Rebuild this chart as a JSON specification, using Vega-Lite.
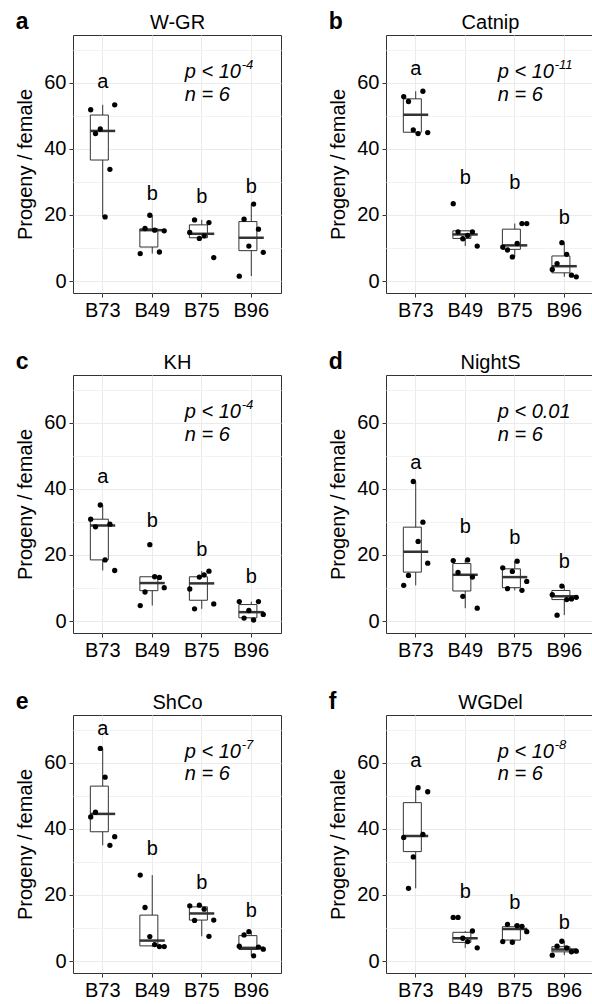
{
"$schema": "https://vega.github.io/schema/vega-lite/v6.json",
"padding": {"left": 15, "top": 10, "right": 0, "bottom": 0},
"autosize": {"type": "pad"},
"columns": 2,
"spacing": {"row": 29, "column": 46},
"datasets": {
"points": [
{"panel":"W-GR","group":"B73","rep":1,"value":51.8},{"panel":"W-GR","group":"B73","rep":2,"value":44.6},{"panel":"W-GR","group":"B73","rep":3,"value":46.0},{"panel":"W-GR","group":"B73","rep":4,"value":19.4},{"panel":"W-GR","group":"B73","rep":5,"value":33.8},{"panel":"W-GR","group":"B73","rep":6,"value":53.3},
{"panel":"W-GR","group":"B49","rep":1,"value":8.3},{"panel":"W-GR","group":"B49","rep":2,"value":15.9},{"panel":"W-GR","group":"B49","rep":3,"value":19.9},{"panel":"W-GR","group":"B49","rep":4,"value":15.4},{"panel":"W-GR","group":"B49","rep":5,"value":8.8},{"panel":"W-GR","group":"B49","rep":6,"value":15.2},
{"panel":"W-GR","group":"B75","rep":1,"value":14.7},{"panel":"W-GR","group":"B75","rep":2,"value":18.5},{"panel":"W-GR","group":"B75","rep":3,"value":12.9},{"panel":"W-GR","group":"B75","rep":4,"value":13.7},{"panel":"W-GR","group":"B75","rep":5,"value":17.7},{"panel":"W-GR","group":"B75","rep":6,"value":7.1},
{"panel":"W-GR","group":"B96","rep":1,"value":1.5},{"panel":"W-GR","group":"B96","rep":2,"value":18.7},{"panel":"W-GR","group":"B96","rep":3,"value":10.6},{"panel":"W-GR","group":"B96","rep":4,"value":23.3},{"panel":"W-GR","group":"B96","rep":5,"value":15.7},{"panel":"W-GR","group":"B96","rep":6,"value":8.7},
{"panel":"Catnip","group":"B73","rep":1,"value":55.8},{"panel":"Catnip","group":"B73","rep":2,"value":54.3},{"panel":"Catnip","group":"B73","rep":3,"value":45.7},{"panel":"Catnip","group":"B73","rep":4,"value":44.6},{"panel":"Catnip","group":"B73","rep":5,"value":57.4},{"panel":"Catnip","group":"B73","rep":6,"value":44.9},
{"panel":"Catnip","group":"B49","rep":1,"value":23.4},{"panel":"Catnip","group":"B49","rep":2,"value":14.9},{"panel":"Catnip","group":"B49","rep":3,"value":12.8},{"panel":"Catnip","group":"B49","rep":4,"value":13.8},{"panel":"Catnip","group":"B49","rep":5,"value":14.9},{"panel":"Catnip","group":"B49","rep":6,"value":10.6},
{"panel":"Catnip","group":"B75","rep":1,"value":10.3},{"panel":"Catnip","group":"B75","rep":2,"value":9.4},{"panel":"Catnip","group":"B75","rep":3,"value":7.3},{"panel":"Catnip","group":"B75","rep":4,"value":11.4},{"panel":"Catnip","group":"B75","rep":5,"value":17.4},{"panel":"Catnip","group":"B75","rep":6,"value":17.4},
{"panel":"Catnip","group":"B96","rep":1,"value":3.5},{"panel":"Catnip","group":"B96","rep":2,"value":5.3},{"panel":"Catnip","group":"B96","rep":3,"value":11.6},{"panel":"Catnip","group":"B96","rep":4,"value":8.1},{"panel":"Catnip","group":"B96","rep":5,"value":1.8},{"panel":"Catnip","group":"B96","rep":6,"value":1.3},
{"panel":"KH","group":"B73","rep":1,"value":30.8},{"panel":"KH","group":"B73","rep":2,"value":28.5},{"panel":"KH","group":"B73","rep":3,"value":35.1},{"panel":"KH","group":"B73","rep":4,"value":18.5},{"panel":"KH","group":"B73","rep":5,"value":29.3},{"panel":"KH","group":"B73","rep":6,"value":15.3},
{"panel":"KH","group":"B49","rep":1,"value":4.7},{"panel":"KH","group":"B49","rep":2,"value":8.8},{"panel":"KH","group":"B49","rep":3,"value":23.1},{"panel":"KH","group":"B49","rep":4,"value":13.4},{"panel":"KH","group":"B49","rep":5,"value":13.2},{"panel":"KH","group":"B49","rep":6,"value":10.1},
{"panel":"KH","group":"B75","rep":1,"value":9.7},{"panel":"KH","group":"B75","rep":2,"value":3.7},{"panel":"KH","group":"B75","rep":3,"value":13.3},{"panel":"KH","group":"B75","rep":4,"value":14.0},{"panel":"KH","group":"B75","rep":5,"value":15.1},{"panel":"KH","group":"B75","rep":6,"value":5.2},
{"panel":"KH","group":"B96","rep":1,"value":5.9},{"panel":"KH","group":"B96","rep":2,"value":0.9},{"panel":"KH","group":"B96","rep":3,"value":3.2},{"panel":"KH","group":"B96","rep":4,"value":0.3},{"panel":"KH","group":"B96","rep":5,"value":5.9},{"panel":"KH","group":"B96","rep":6,"value":2.0},
{"panel":"NightS","group":"B73","rep":1,"value":10.8},{"panel":"NightS","group":"B73","rep":2,"value":13.8},{"panel":"NightS","group":"B73","rep":3,"value":42.2},{"panel":"NightS","group":"B73","rep":4,"value":24.1},{"panel":"NightS","group":"B73","rep":5,"value":29.9},{"panel":"NightS","group":"B73","rep":6,"value":17.5},
{"panel":"NightS","group":"B49","rep":1,"value":18.3},{"panel":"NightS","group":"B49","rep":2,"value":14.7},{"panel":"NightS","group":"B49","rep":3,"value":7.5},{"panel":"NightS","group":"B49","rep":4,"value":18.5},{"panel":"NightS","group":"B49","rep":5,"value":13.3},{"panel":"NightS","group":"B49","rep":6,"value":3.9},
{"panel":"NightS","group":"B75","rep":1,"value":16.1},{"panel":"NightS","group":"B75","rep":2,"value":9.8},{"panel":"NightS","group":"B75","rep":3,"value":15.0},{"panel":"NightS","group":"B75","rep":4,"value":18.1},{"panel":"NightS","group":"B75","rep":5,"value":9.3},{"panel":"NightS","group":"B75","rep":6,"value":12.0},
{"panel":"NightS","group":"B96","rep":1,"value":8.0},{"panel":"NightS","group":"B96","rep":2,"value":1.8},{"panel":"NightS","group":"B96","rep":3,"value":10.6},{"panel":"NightS","group":"B96","rep":4,"value":6.5},{"panel":"NightS","group":"B96","rep":5,"value":6.7},{"panel":"NightS","group":"B96","rep":6,"value":7.2},
{"panel":"ShCo","group":"B73","rep":1,"value":43.6},{"panel":"ShCo","group":"B73","rep":2,"value":45.0},{"panel":"ShCo","group":"B73","rep":3,"value":64.3},{"panel":"ShCo","group":"B73","rep":4,"value":55.6},{"panel":"ShCo","group":"B73","rep":5,"value":35.0},{"panel":"ShCo","group":"B73","rep":6,"value":37.6},
{"panel":"ShCo","group":"B49","rep":1,"value":26.0},{"panel":"ShCo","group":"B49","rep":2,"value":16.2},{"panel":"ShCo","group":"B49","rep":3,"value":7.4},{"panel":"ShCo","group":"B49","rep":4,"value":5.0},{"panel":"ShCo","group":"B49","rep":5,"value":4.4},{"panel":"ShCo","group":"B49","rep":6,"value":4.4},
{"panel":"ShCo","group":"B75","rep":1,"value":16.7},{"panel":"ShCo","group":"B75","rep":2,"value":12.3},{"panel":"ShCo","group":"B75","rep":3,"value":16.9},{"panel":"ShCo","group":"B75","rep":4,"value":15.7},{"panel":"ShCo","group":"B75","rep":5,"value":7.5},{"panel":"ShCo","group":"B75","rep":6,"value":12.4},
{"panel":"ShCo","group":"B96","rep":1,"value":4.5},{"panel":"ShCo","group":"B96","rep":2,"value":7.9},{"panel":"ShCo","group":"B96","rep":3,"value":8.9},{"panel":"ShCo","group":"B96","rep":4,"value":1.6},{"panel":"ShCo","group":"B96","rep":5,"value":4.2},{"panel":"ShCo","group":"B96","rep":6,"value":3.6},
{"panel":"WGDel","group":"B73","rep":1,"value":37.4},{"panel":"WGDel","group":"B73","rep":2,"value":22.0},{"panel":"WGDel","group":"B73","rep":3,"value":31.5},{"panel":"WGDel","group":"B73","rep":4,"value":52.4},{"panel":"WGDel","group":"B73","rep":5,"value":38.3},{"panel":"WGDel","group":"B73","rep":6,"value":51.2},
{"panel":"WGDel","group":"B49","rep":1,"value":13.2},{"panel":"WGDel","group":"B49","rep":2,"value":13.2},{"panel":"WGDel","group":"B49","rep":3,"value":6.9},{"panel":"WGDel","group":"B49","rep":4,"value":5.9},{"panel":"WGDel","group":"B49","rep":5,"value":9.1},{"panel":"WGDel","group":"B49","rep":6,"value":4.0},
{"panel":"WGDel","group":"B75","rep":1,"value":5.9},{"panel":"WGDel","group":"B75","rep":2,"value":11.1},{"panel":"WGDel","group":"B75","rep":3,"value":5.7},{"panel":"WGDel","group":"B75","rep":4,"value":10.7},{"panel":"WGDel","group":"B75","rep":5,"value":10.5},{"panel":"WGDel","group":"B75","rep":6,"value":8.9},
{"panel":"WGDel","group":"B96","rep":1,"value":1.8},{"panel":"WGDel","group":"B96","rep":2,"value":4.5},{"panel":"WGDel","group":"B96","rep":3,"value":6.0},{"panel":"WGDel","group":"B96","rep":4,"value":4.0},{"panel":"WGDel","group":"B96","rep":5,"value":2.8},{"panel":"WGDel","group":"B96","rep":6,"value":3.0}
],
"boxes": [
{"panel":"W-GR","group":"B73","lower":19.4,"q1":36.6,"median":45.4,"q3":50.2,"upper":53.3},
{"panel":"W-GR","group":"B49","lower":8.3,"q1":10.3,"median":15.4,"q3":15.8,"upper":19.9},
{"panel":"W-GR","group":"B75","lower":12.9,"q1":13.1,"median":14.3,"q3":17.0,"upper":18.5},
{"panel":"W-GR","group":"B96","lower":1.5,"q1":9.2,"median":13.1,"q3":18.0,"upper":23.3},
{"panel":"Catnip","group":"B73","lower":44.6,"q1":45.0,"median":50.3,"q3":55.1,"upper":57.4},
{"panel":"Catnip","group":"B49","lower":10.6,"q1":12.9,"median":14.1,"q3":15.2,"upper":15.2},
{"panel":"Catnip","group":"B75","lower":7.3,"q1":9.6,"median":10.8,"q3":15.7,"upper":17.4},
{"panel":"Catnip","group":"B96","lower":1.3,"q1":2.5,"median":4.5,"q3":7.6,"upper":11.6},
{"panel":"KH","group":"B73","lower":15.3,"q1":18.5,"median":28.9,"q3":30.8,"upper":35.1},
{"panel":"KH","group":"B49","lower":4.7,"q1":9.2,"median":11.5,"q3":13.4,"upper":13.4},
{"panel":"KH","group":"B75","lower":3.7,"q1":6.3,"median":11.4,"q3":13.4,"upper":15.1},
{"panel":"KH","group":"B96","lower":0.3,"q1":1.0,"median":2.7,"q3":5.0,"upper":5.9},
{"panel":"NightS","group":"B73","lower":10.8,"q1":14.8,"median":21.0,"q3":28.4,"upper":42.2},
{"panel":"NightS","group":"B49","lower":3.9,"q1":9.1,"median":14.0,"q3":17.4,"upper":18.5},
{"panel":"NightS","group":"B75","lower":9.3,"q1":10.1,"median":13.3,"q3":15.8,"upper":18.1},
{"panel":"NightS","group":"B96","lower":1.8,"q1":6.5,"median":7.5,"q3":9.25,"upper":10.7},
{"panel":"ShCo","group":"B73","lower":35.0,"q1":39.1,"median":44.5,"q3":52.9,"upper":64.3},
{"panel":"ShCo","group":"B49","lower":4.4,"q1":4.6,"median":6.2,"q3":13.9,"upper":26.0},
{"panel":"ShCo","group":"B75","lower":7.5,"q1":12.4,"median":14.4,"q3":16.4,"upper":16.9},
{"panel":"ShCo","group":"B96","lower":1.6,"q1":3.5,"median":4.0,"q3":7.7,"upper":8.9},
{"panel":"WGDel","group":"B73","lower":22.0,"q1":33.1,"median":37.8,"q3":47.9,"upper":52.4},
{"panel":"WGDel","group":"B49","lower":4.0,"q1":5.65,"median":6.9,"q3":8.7,"upper":9.1},
{"panel":"WGDel","group":"B75","lower":5.7,"q1":6.35,"median":9.7,"q3":10.4,"upper":11.1},
{"panel":"WGDel","group":"B96","lower":1.8,"q1":2.8,"median":3.5,"q3":4.35,"upper":6.0}
],
"letters": [
{"panel":"W-GR","group":"B73","letter":"a","y":58.4},{"panel":"W-GR","group":"B49","letter":"b","y":24.4},{"panel":"W-GR","group":"B75","letter":"b","y":23.6},{"panel":"W-GR","group":"B96","letter":"b","y":26.6},
{"panel":"Catnip","group":"B73","letter":"a","y":62.4},{"panel":"Catnip","group":"B49","letter":"b","y":29.3},{"panel":"Catnip","group":"B75","letter":"b","y":27.8},{"panel":"Catnip","group":"B96","letter":"b","y":17.2},
{"panel":"KH","group":"B73","letter":"a","y":41.6},{"panel":"KH","group":"B49","letter":"b","y":28.5},{"panel":"KH","group":"B75","letter":"b","y":19.7},{"panel":"KH","group":"B96","letter":"b","y":11.6},
{"panel":"NightS","group":"B73","letter":"a","y":45.9},{"panel":"NightS","group":"B49","letter":"b","y":26.5},{"panel":"NightS","group":"B75","letter":"b","y":23.2},{"panel":"NightS","group":"B96","letter":"b","y":16.0},
{"panel":"ShCo","group":"B73","letter":"a","y":68.5},{"panel":"ShCo","group":"B49","letter":"b","y":32.1},{"panel":"ShCo","group":"B75","letter":"b","y":21.8},{"panel":"ShCo","group":"B96","letter":"b","y":13.4},
{"panel":"WGDel","group":"B73","letter":"a","y":58.8},{"panel":"WGDel","group":"B49","letter":"b","y":19.2},{"panel":"WGDel","group":"B75","letter":"b","y":15.9},{"panel":"WGDel","group":"B96","letter":"b","y":9.7}
],
"notes": [
{"panel":"W-GR","label":"p < 10","sup":"-4","y":61.4},{"panel":"W-GR","label":"n = 6","y":54.5},
{"panel":"Catnip","label":"p < 10","sup":"-11","y":61.4},{"panel":"Catnip","label":"n = 6","y":54.5},
{"panel":"KH","label":"p < 10","sup":"-4","y":61.3},{"panel":"KH","label":"n = 6","y":54.5},
{"panel":"NightS","label":"p < 0.01","y":61.3},{"panel":"NightS","label":"n = 6","y":54.5},
{"panel":"ShCo","label":"p < 10","sup":"-7","y":61.3},{"panel":"ShCo","label":"n = 6","y":54.6},
{"panel":"WGDel","label":"p < 10","sup":"-8","y":61.3},{"panel":"WGDel","label":"n = 6","y":54.6}
]
},
"concat": [
{"width":208,"height":258,"title":{"text":"a"},
"encoding":{"x":{"field":"group","type":"nominal","scale":{"domain":["B73","B49","B75","B96"],"paddingInner":0,"paddingOuter":0.1},"axis":null}},
"layer":[
{"data":{"name":"boxes"},"transform":[{"filter":"datum.panel === 'W-GR'"}],"mark":{"type":"rule","color":"#333333","strokeWidth":1},
"encoding":{"x":{"field":"group","type":"nominal","scale":{"domain":["B73","B49","B75","B96"],"paddingInner":0,"paddingOuter":0.1},"axis":{"title":null,"labelAngle":0,"grid":true}},
"y":{"field":"lower","type":"quantitative","scale":{"domain":[-3.6,74.4],"nice":false,"zero":false},"axis":{"values":[0,20,40,60],"title":"Progeny / female","grid":true}},"y2":{"field":"upper"}}},
{"data":{"name":"boxes"},"transform":[{"filter":"datum.panel === 'W-GR'"}],"mark":{"type":"bar","fill":"white","stroke":"#333333","strokeWidth":1,"width":{"band":0.5}},
"encoding":{"y":{"field":"q1","type":"quantitative","scale":{"domain":[-3.6,74.4],"nice":false,"zero":false},"axis":null},"y2":{"field":"q3"}}},
{"data":{"name":"boxes"},"transform":[{"filter":"datum.panel === 'W-GR'"}],"mark":{"type":"tick","color":"#333333","size":25,"thickness":2.5,"opacity":1},
"encoding":{"y":{"field":"median","type":"quantitative","scale":{"domain":[-3.6,74.4],"nice":false,"zero":false},"axis":null}}},
{"data":{"name":"points"},"transform":[{"filter":"datum.panel === 'W-GR'"}],"mark":{"type":"circle","color":"black","opacity":1,"size":28},
"encoding":{"xOffset":{"field":"rep","type":"nominal","scale":{"range":[12.75,36.75],"paddingOuter":0,"paddingInner":0}},"y":{"field":"value","type":"quantitative","scale":{"domain":[-3.6,74.4],"nice":false,"zero":false},"axis":null}}},
{"data":{"name":"letters"},"transform":[{"filter":"datum.panel === 'W-GR'"}],"mark":{"type":"text","fontSize":20,"baseline":"alphabetic","color":"black"},
"encoding":{"x":{"field":"group","type":"nominal","scale":{"domain":["B73","B49","B75","B96"]},"axis":{"orient":"top","title":"W-GR","labels":false,"ticks":false,"domain":false,"grid":false}},
"y":{"field":"y","type":"quantitative","scale":{"domain":[-3.6,74.4],"nice":false,"zero":false},"axis":{"orient":"right","values":[10,30,50,70],"grid":true,"gridColor":"#F2F2F2","labels":false,"ticks":false,"domain":false,"title":null}},"text":{"field":"letter"}}},
{"data":{"name":"notes"},"transform":[{"filter":"datum.panel === 'W-GR'"}],"mark":{"type":"text","fontSize":20,"fontStyle":"italic","align":"left","baseline":"alphabetic","dx":-17,"color":"black"},
"encoding":{"x":{"datum":"B75","type":"nominal","axis":null},"y":{"field":"y","type":"quantitative","scale":{"domain":[-3.6,74.4],"nice":false,"zero":false},"axis":null},"text":{"field":"label"}}},
{"data":{"name":"notes"},"transform":[{"filter":"datum.panel === 'W-GR' && isValid(datum.sup)"}],"mark":{"type":"text","fontSize":13,"fontStyle":"italic","align":"left","baseline":"alphabetic","dx":40,"dy":-9,"color":"black"},
"encoding":{"x":{"datum":"B75","type":"nominal","axis":null},"y":{"field":"y","type":"quantitative","scale":{"domain":[-3.6,74.4],"nice":false,"zero":false},"axis":null},"text":{"field":"sup"}}}
],
"resolve":{"axis":{"x":"independent","y":"independent"}}},

{"width":208,"height":258,"title":{"text":"b"},
"encoding":{"x":{"field":"group","type":"nominal","scale":{"domain":["B73","B49","B75","B96"],"paddingInner":0,"paddingOuter":0.1},"axis":null}},
"layer":[
{"data":{"name":"boxes"},"transform":[{"filter":"datum.panel === 'Catnip'"}],"mark":{"type":"rule","color":"#333333","strokeWidth":1},
"encoding":{"x":{"field":"group","type":"nominal","scale":{"domain":["B73","B49","B75","B96"],"paddingInner":0,"paddingOuter":0.1},"axis":{"title":null,"labelAngle":0,"grid":true}},
"y":{"field":"lower","type":"quantitative","scale":{"domain":[-3.6,74.4],"nice":false,"zero":false},"axis":{"values":[0,20,40,60],"title":"Progeny / female","grid":true}},"y2":{"field":"upper"}}},
{"data":{"name":"boxes"},"transform":[{"filter":"datum.panel === 'Catnip'"}],"mark":{"type":"bar","fill":"white","stroke":"#333333","strokeWidth":1,"width":{"band":0.5}},
"encoding":{"y":{"field":"q1","type":"quantitative","scale":{"domain":[-3.6,74.4],"nice":false,"zero":false},"axis":null},"y2":{"field":"q3"}}},
{"data":{"name":"boxes"},"transform":[{"filter":"datum.panel === 'Catnip'"}],"mark":{"type":"tick","color":"#333333","size":25,"thickness":2.5,"opacity":1},
"encoding":{"y":{"field":"median","type":"quantitative","scale":{"domain":[-3.6,74.4],"nice":false,"zero":false},"axis":null}}},
{"data":{"name":"points"},"transform":[{"filter":"datum.panel === 'Catnip'"}],"mark":{"type":"circle","color":"black","opacity":1,"size":28},
"encoding":{"xOffset":{"field":"rep","type":"nominal","scale":{"range":[12.75,36.75],"paddingOuter":0,"paddingInner":0}},"y":{"field":"value","type":"quantitative","scale":{"domain":[-3.6,74.4],"nice":false,"zero":false},"axis":null}}},
{"data":{"name":"letters"},"transform":[{"filter":"datum.panel === 'Catnip'"}],"mark":{"type":"text","fontSize":20,"baseline":"alphabetic","color":"black"},
"encoding":{"x":{"field":"group","type":"nominal","scale":{"domain":["B73","B49","B75","B96"]},"axis":{"orient":"top","title":"Catnip","labels":false,"ticks":false,"domain":false,"grid":false}},
"y":{"field":"y","type":"quantitative","scale":{"domain":[-3.6,74.4],"nice":false,"zero":false},"axis":{"orient":"right","values":[10,30,50,70],"grid":true,"gridColor":"#F2F2F2","labels":false,"ticks":false,"domain":false,"title":null}},"text":{"field":"letter"}}},
{"data":{"name":"notes"},"transform":[{"filter":"datum.panel === 'Catnip'"}],"mark":{"type":"text","fontSize":20,"fontStyle":"italic","align":"left","baseline":"alphabetic","dx":-17,"color":"black"},
"encoding":{"x":{"datum":"B75","type":"nominal","axis":null},"y":{"field":"y","type":"quantitative","scale":{"domain":[-3.6,74.4],"nice":false,"zero":false},"axis":null},"text":{"field":"label"}}},
{"data":{"name":"notes"},"transform":[{"filter":"datum.panel === 'Catnip' && isValid(datum.sup)"}],"mark":{"type":"text","fontSize":13,"fontStyle":"italic","align":"left","baseline":"alphabetic","dx":40,"dy":-9,"color":"black"},
"encoding":{"x":{"datum":"B75","type":"nominal","axis":null},"y":{"field":"y","type":"quantitative","scale":{"domain":[-3.6,74.4],"nice":false,"zero":false},"axis":null},"text":{"field":"sup"}}}
],
"resolve":{"axis":{"x":"independent","y":"independent"}}},

{"width":208,"height":258,"title":{"text":"c"},
"encoding":{"x":{"field":"group","type":"nominal","scale":{"domain":["B73","B49","B75","B96"],"paddingInner":0,"paddingOuter":0.1},"axis":null}},
"layer":[
{"data":{"name":"boxes"},"transform":[{"filter":"datum.panel === 'KH'"}],"mark":{"type":"rule","color":"#333333","strokeWidth":1},
"encoding":{"x":{"field":"group","type":"nominal","scale":{"domain":["B73","B49","B75","B96"],"paddingInner":0,"paddingOuter":0.1},"axis":{"title":null,"labelAngle":0,"grid":true}},
"y":{"field":"lower","type":"quantitative","scale":{"domain":[-3.6,74.4],"nice":false,"zero":false},"axis":{"values":[0,20,40,60],"title":"Progeny / female","grid":true}},"y2":{"field":"upper"}}},
{"data":{"name":"boxes"},"transform":[{"filter":"datum.panel === 'KH'"}],"mark":{"type":"bar","fill":"white","stroke":"#333333","strokeWidth":1,"width":{"band":0.5}},
"encoding":{"y":{"field":"q1","type":"quantitative","scale":{"domain":[-3.6,74.4],"nice":false,"zero":false},"axis":null},"y2":{"field":"q3"}}},
{"data":{"name":"boxes"},"transform":[{"filter":"datum.panel === 'KH'"}],"mark":{"type":"tick","color":"#333333","size":25,"thickness":2.5,"opacity":1},
"encoding":{"y":{"field":"median","type":"quantitative","scale":{"domain":[-3.6,74.4],"nice":false,"zero":false},"axis":null}}},
{"data":{"name":"points"},"transform":[{"filter":"datum.panel === 'KH'"}],"mark":{"type":"circle","color":"black","opacity":1,"size":28},
"encoding":{"xOffset":{"field":"rep","type":"nominal","scale":{"range":[12.75,36.75],"paddingOuter":0,"paddingInner":0}},"y":{"field":"value","type":"quantitative","scale":{"domain":[-3.6,74.4],"nice":false,"zero":false},"axis":null}}},
{"data":{"name":"letters"},"transform":[{"filter":"datum.panel === 'KH'"}],"mark":{"type":"text","fontSize":20,"baseline":"alphabetic","color":"black"},
"encoding":{"x":{"field":"group","type":"nominal","scale":{"domain":["B73","B49","B75","B96"]},"axis":{"orient":"top","title":"KH","labels":false,"ticks":false,"domain":false,"grid":false}},
"y":{"field":"y","type":"quantitative","scale":{"domain":[-3.6,74.4],"nice":false,"zero":false},"axis":{"orient":"right","values":[10,30,50,70],"grid":true,"gridColor":"#F2F2F2","labels":false,"ticks":false,"domain":false,"title":null}},"text":{"field":"letter"}}},
{"data":{"name":"notes"},"transform":[{"filter":"datum.panel === 'KH'"}],"mark":{"type":"text","fontSize":20,"fontStyle":"italic","align":"left","baseline":"alphabetic","dx":-17,"color":"black"},
"encoding":{"x":{"datum":"B75","type":"nominal","axis":null},"y":{"field":"y","type":"quantitative","scale":{"domain":[-3.6,74.4],"nice":false,"zero":false},"axis":null},"text":{"field":"label"}}},
{"data":{"name":"notes"},"transform":[{"filter":"datum.panel === 'KH' && isValid(datum.sup)"}],"mark":{"type":"text","fontSize":13,"fontStyle":"italic","align":"left","baseline":"alphabetic","dx":40,"dy":-9,"color":"black"},
"encoding":{"x":{"datum":"B75","type":"nominal","axis":null},"y":{"field":"y","type":"quantitative","scale":{"domain":[-3.6,74.4],"nice":false,"zero":false},"axis":null},"text":{"field":"sup"}}}
],
"resolve":{"axis":{"x":"independent","y":"independent"}}},

{"width":208,"height":258,"title":{"text":"d"},
"encoding":{"x":{"field":"group","type":"nominal","scale":{"domain":["B73","B49","B75","B96"],"paddingInner":0,"paddingOuter":0.1},"axis":null}},
"layer":[
{"data":{"name":"boxes"},"transform":[{"filter":"datum.panel === 'NightS'"}],"mark":{"type":"rule","color":"#333333","strokeWidth":1},
"encoding":{"x":{"field":"group","type":"nominal","scale":{"domain":["B73","B49","B75","B96"],"paddingInner":0,"paddingOuter":0.1},"axis":{"title":null,"labelAngle":0,"grid":true}},
"y":{"field":"lower","type":"quantitative","scale":{"domain":[-3.6,74.4],"nice":false,"zero":false},"axis":{"values":[0,20,40,60],"title":"Progeny / female","grid":true}},"y2":{"field":"upper"}}},
{"data":{"name":"boxes"},"transform":[{"filter":"datum.panel === 'NightS'"}],"mark":{"type":"bar","fill":"white","stroke":"#333333","strokeWidth":1,"width":{"band":0.5}},
"encoding":{"y":{"field":"q1","type":"quantitative","scale":{"domain":[-3.6,74.4],"nice":false,"zero":false},"axis":null},"y2":{"field":"q3"}}},
{"data":{"name":"boxes"},"transform":[{"filter":"datum.panel === 'NightS'"}],"mark":{"type":"tick","color":"#333333","size":25,"thickness":2.5,"opacity":1},
"encoding":{"y":{"field":"median","type":"quantitative","scale":{"domain":[-3.6,74.4],"nice":false,"zero":false},"axis":null}}},
{"data":{"name":"points"},"transform":[{"filter":"datum.panel === 'NightS'"}],"mark":{"type":"circle","color":"black","opacity":1,"size":28},
"encoding":{"xOffset":{"field":"rep","type":"nominal","scale":{"range":[12.75,36.75],"paddingOuter":0,"paddingInner":0}},"y":{"field":"value","type":"quantitative","scale":{"domain":[-3.6,74.4],"nice":false,"zero":false},"axis":null}}},
{"data":{"name":"letters"},"transform":[{"filter":"datum.panel === 'NightS'"}],"mark":{"type":"text","fontSize":20,"baseline":"alphabetic","color":"black"},
"encoding":{"x":{"field":"group","type":"nominal","scale":{"domain":["B73","B49","B75","B96"]},"axis":{"orient":"top","title":"NightS","labels":false,"ticks":false,"domain":false,"grid":false}},
"y":{"field":"y","type":"quantitative","scale":{"domain":[-3.6,74.4],"nice":false,"zero":false},"axis":{"orient":"right","values":[10,30,50,70],"grid":true,"gridColor":"#F2F2F2","labels":false,"ticks":false,"domain":false,"title":null}},"text":{"field":"letter"}}},
{"data":{"name":"notes"},"transform":[{"filter":"datum.panel === 'NightS'"}],"mark":{"type":"text","fontSize":20,"fontStyle":"italic","align":"left","baseline":"alphabetic","dx":-17,"color":"black"},
"encoding":{"x":{"datum":"B75","type":"nominal","axis":null},"y":{"field":"y","type":"quantitative","scale":{"domain":[-3.6,74.4],"nice":false,"zero":false},"axis":null},"text":{"field":"label"}}}
],
"resolve":{"axis":{"x":"independent","y":"independent"}}},

{"width":208,"height":258,"title":{"text":"e"},
"encoding":{"x":{"field":"group","type":"nominal","scale":{"domain":["B73","B49","B75","B96"],"paddingInner":0,"paddingOuter":0.1},"axis":null}},
"layer":[
{"data":{"name":"boxes"},"transform":[{"filter":"datum.panel === 'ShCo'"}],"mark":{"type":"rule","color":"#333333","strokeWidth":1},
"encoding":{"x":{"field":"group","type":"nominal","scale":{"domain":["B73","B49","B75","B96"],"paddingInner":0,"paddingOuter":0.1},"axis":{"title":null,"labelAngle":0,"grid":true}},
"y":{"field":"lower","type":"quantitative","scale":{"domain":[-3.6,74.4],"nice":false,"zero":false},"axis":{"values":[0,20,40,60],"title":"Progeny / female","grid":true}},"y2":{"field":"upper"}}},
{"data":{"name":"boxes"},"transform":[{"filter":"datum.panel === 'ShCo'"}],"mark":{"type":"bar","fill":"white","stroke":"#333333","strokeWidth":1,"width":{"band":0.5}},
"encoding":{"y":{"field":"q1","type":"quantitative","scale":{"domain":[-3.6,74.4],"nice":false,"zero":false},"axis":null},"y2":{"field":"q3"}}},
{"data":{"name":"boxes"},"transform":[{"filter":"datum.panel === 'ShCo'"}],"mark":{"type":"tick","color":"#333333","size":25,"thickness":2.5,"opacity":1},
"encoding":{"y":{"field":"median","type":"quantitative","scale":{"domain":[-3.6,74.4],"nice":false,"zero":false},"axis":null}}},
{"data":{"name":"points"},"transform":[{"filter":"datum.panel === 'ShCo'"}],"mark":{"type":"circle","color":"black","opacity":1,"size":28},
"encoding":{"xOffset":{"field":"rep","type":"nominal","scale":{"range":[12.75,36.75],"paddingOuter":0,"paddingInner":0}},"y":{"field":"value","type":"quantitative","scale":{"domain":[-3.6,74.4],"nice":false,"zero":false},"axis":null}}},
{"data":{"name":"letters"},"transform":[{"filter":"datum.panel === 'ShCo'"}],"mark":{"type":"text","fontSize":20,"baseline":"alphabetic","color":"black"},
"encoding":{"x":{"field":"group","type":"nominal","scale":{"domain":["B73","B49","B75","B96"]},"axis":{"orient":"top","title":"ShCo","labels":false,"ticks":false,"domain":false,"grid":false}},
"y":{"field":"y","type":"quantitative","scale":{"domain":[-3.6,74.4],"nice":false,"zero":false},"axis":{"orient":"right","values":[10,30,50,70],"grid":true,"gridColor":"#F2F2F2","labels":false,"ticks":false,"domain":false,"title":null}},"text":{"field":"letter"}}},
{"data":{"name":"notes"},"transform":[{"filter":"datum.panel === 'ShCo'"}],"mark":{"type":"text","fontSize":20,"fontStyle":"italic","align":"left","baseline":"alphabetic","dx":-17,"color":"black"},
"encoding":{"x":{"datum":"B75","type":"nominal","axis":null},"y":{"field":"y","type":"quantitative","scale":{"domain":[-3.6,74.4],"nice":false,"zero":false},"axis":null},"text":{"field":"label"}}},
{"data":{"name":"notes"},"transform":[{"filter":"datum.panel === 'ShCo' && isValid(datum.sup)"}],"mark":{"type":"text","fontSize":13,"fontStyle":"italic","align":"left","baseline":"alphabetic","dx":40,"dy":-9,"color":"black"},
"encoding":{"x":{"datum":"B75","type":"nominal","axis":null},"y":{"field":"y","type":"quantitative","scale":{"domain":[-3.6,74.4],"nice":false,"zero":false},"axis":null},"text":{"field":"sup"}}}
],
"resolve":{"axis":{"x":"independent","y":"independent"}}},

{"width":208,"height":258,"title":{"text":"f"},
"encoding":{"x":{"field":"group","type":"nominal","scale":{"domain":["B73","B49","B75","B96"],"paddingInner":0,"paddingOuter":0.1},"axis":null}},
"layer":[
{"data":{"name":"boxes"},"transform":[{"filter":"datum.panel === 'WGDel'"}],"mark":{"type":"rule","color":"#333333","strokeWidth":1},
"encoding":{"x":{"field":"group","type":"nominal","scale":{"domain":["B73","B49","B75","B96"],"paddingInner":0,"paddingOuter":0.1},"axis":{"title":null,"labelAngle":0,"grid":true}},
"y":{"field":"lower","type":"quantitative","scale":{"domain":[-3.6,74.4],"nice":false,"zero":false},"axis":{"values":[0,20,40,60],"title":"Progeny / female","grid":true}},"y2":{"field":"upper"}}},
{"data":{"name":"boxes"},"transform":[{"filter":"datum.panel === 'WGDel'"}],"mark":{"type":"bar","fill":"white","stroke":"#333333","strokeWidth":1,"width":{"band":0.5}},
"encoding":{"y":{"field":"q1","type":"quantitative","scale":{"domain":[-3.6,74.4],"nice":false,"zero":false},"axis":null},"y2":{"field":"q3"}}},
{"data":{"name":"boxes"},"transform":[{"filter":"datum.panel === 'WGDel'"}],"mark":{"type":"tick","color":"#333333","size":25,"thickness":2.5,"opacity":1},
"encoding":{"y":{"field":"median","type":"quantitative","scale":{"domain":[-3.6,74.4],"nice":false,"zero":false},"axis":null}}},
{"data":{"name":"points"},"transform":[{"filter":"datum.panel === 'WGDel'"}],"mark":{"type":"circle","color":"black","opacity":1,"size":28},
"encoding":{"xOffset":{"field":"rep","type":"nominal","scale":{"range":[12.75,36.75],"paddingOuter":0,"paddingInner":0}},"y":{"field":"value","type":"quantitative","scale":{"domain":[-3.6,74.4],"nice":false,"zero":false},"axis":null}}},
{"data":{"name":"letters"},"transform":[{"filter":"datum.panel === 'WGDel'"}],"mark":{"type":"text","fontSize":20,"baseline":"alphabetic","color":"black"},
"encoding":{"x":{"field":"group","type":"nominal","scale":{"domain":["B73","B49","B75","B96"]},"axis":{"orient":"top","title":"WGDel","labels":false,"ticks":false,"domain":false,"grid":false}},
"y":{"field":"y","type":"quantitative","scale":{"domain":[-3.6,74.4],"nice":false,"zero":false},"axis":{"orient":"right","values":[10,30,50,70],"grid":true,"gridColor":"#F2F2F2","labels":false,"ticks":false,"domain":false,"title":null}},"text":{"field":"letter"}}},
{"data":{"name":"notes"},"transform":[{"filter":"datum.panel === 'WGDel'"}],"mark":{"type":"text","fontSize":20,"fontStyle":"italic","align":"left","baseline":"alphabetic","dx":-17,"color":"black"},
"encoding":{"x":{"datum":"B75","type":"nominal","axis":null},"y":{"field":"y","type":"quantitative","scale":{"domain":[-3.6,74.4],"nice":false,"zero":false},"axis":null},"text":{"field":"label"}}},
{"data":{"name":"notes"},"transform":[{"filter":"datum.panel === 'WGDel' && isValid(datum.sup)"}],"mark":{"type":"text","fontSize":13,"fontStyle":"italic","align":"left","baseline":"alphabetic","dx":40,"dy":-9,"color":"black"},
"encoding":{"x":{"datum":"B75","type":"nominal","axis":null},"y":{"field":"y","type":"quantitative","scale":{"domain":[-3.6,74.4],"nice":false,"zero":false},"axis":null},"text":{"field":"sup"}}}
],
"resolve":{"axis":{"x":"independent","y":"independent"}}}
],
"config": {
"font": "Liberation Sans",
"view": {"stroke": "#333333", "strokeWidth": 1},
"axis": {"labelFont": "Liberation Sans", "labelFontSize": 20, "labelColor": "black", "tickColor": "#333333", "tickSize": 4, "labelPadding": 3, "domain": false, "gridColor": "#EBEBEB", "gridWidth": 1, "titleFont": "Liberation Sans", "titleFontSize": 20, "titleFontWeight": "normal", "titleColor": "black", "titlePadding": 8},
"axisX": {"titlePadding": 3},
"text": {"font": "Liberation Sans"},
"title": {"anchor": "start", "frame": "bounds", "fontSize": 23, "fontWeight": "bold", "font": "Liberation Sans", "color": "black", "offset": -22}
}
}
